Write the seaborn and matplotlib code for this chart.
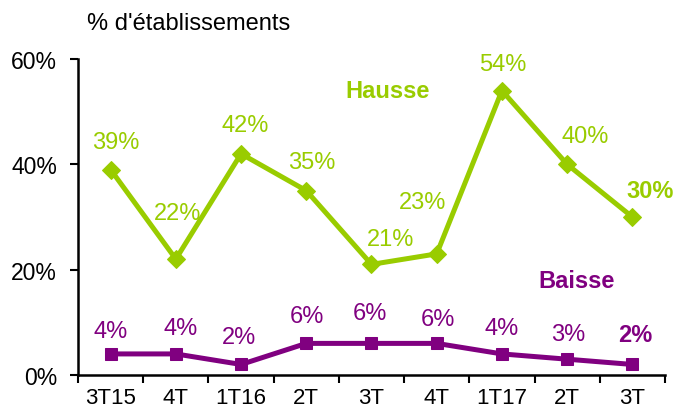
import numpy as np
import matplotlib
matplotlib.use('Agg')
import matplotlib.pyplot as plt
import seaborn as sns

# Data
periods = ['3T15', '4T', '1T16', '2T', '3T', '4T', '1T17', '2T', '3T']
hausse = [39, 22, 42, 35, 21, 23, 54, 40, 30]
baisse = [4, 4, 2, 6, 6, 6, 4, 3, 2]

GREEN = '#99CC00'
PURPLE = '#800080'

sns.set_style('white')
plt.rcParams['font.family'] = ['Liberation Sans', 'DejaVu Sans']
plt.rcParams['text.color'] = 'black'
plt.rcParams['xtick.color'] = 'black'
plt.rcParams['ytick.color'] = 'black'

fig = plt.figure(figsize=(6.76, 4.14), dpi=100)
ax = fig.add_axes([0.1154, 0.0918, 0.8683, 0.7633])

x = np.arange(len(periods))
h = np.array(hausse) / 100
b = np.array(baisse) / 100

sns.lineplot(x=x, y=h, ax=ax, color=GREEN, linewidth=3.6, marker='D',
             markersize=9, markeredgecolor=GREEN)
sns.lineplot(x=x, y=b, ax=ax, color=PURPLE, linewidth=3.6, marker='s',
             markersize=8.5, markeredgecolor=PURPLE)

# label offsets in pixels (dx, dy)
h_off = [(5, 28), (2, 46), (4, 29), (5, 29), (19, 25), (-14, 52), (1, 27), (18, 28), (18, 26)]
b_off = [(0, 23), (5, 26), (-2, 27), (1, 27), (-2, 30), (1, 24), (0, 26), (1, 25), (3, 30)]

last = len(periods) - 1
for i, (v, (dx, dy)) in enumerate(zip(h, h_off)):
    ax.annotate(f'{hausse[i]}%', (x[i], v), xytext=(dx, dy), textcoords='offset pixels',
                ha='center', va='center', fontsize=17, color=GREEN,
                fontweight='bold' if i == last else 'normal')
for i, (v, (dx, dy)) in enumerate(zip(b, b_off)):
    ax.annotate(f'{baisse[i]}%', (x[i], v), xytext=(dx, dy), textcoords='offset pixels',
                ha='center', va='center', fontsize=17, color=PURPLE,
                fontweight='bold' if i == last else 'normal')

ax.text(4.25, 0.54, 'Hausse', color=GREEN, fontsize=17, fontweight='bold',
        ha='center', va='center')
ax.text(7.15, 0.18, 'Baisse', color=PURPLE, fontsize=17, fontweight='bold',
        ha='center', va='center')

ax.set_xlim(-0.5, len(periods) - 0.5)
ax.set_ylim(0, 0.6)
ax.set_yticks([0, 0.2, 0.4, 0.6])
ax.set_yticklabels(['0%', '20%', '40%', '60%'])
ax.set_xticks(x)
ax.set_xticklabels(periods)
ax.set_xticks(np.arange(-0.5, len(periods)), minor=True)
ax.tick_params(axis='x', which='major', length=0, pad=9, labelsize=16)
ax.tick_params(axis='x', which='minor', length=6, width=1.5, direction='out', bottom=True)
ax.tick_params(axis='y', length=6, width=1.5, direction='out', left=True, pad=9, labelsize=16.5)

for s in ['top', 'right']:
    ax.spines[s].set_visible(False)
for s in ['left', 'bottom']:
    ax.spines[s].set_color('black')
    ax.spines[s].set_linewidth(1.8)
for line in ax.lines:
    line.set_clip_on(False)

fig.text(87 / 676, 1 - 24 / 414, "% d'établissements", fontsize=17,
         ha='left', va='center')

fig.savefig('out.png', dpi=100)
